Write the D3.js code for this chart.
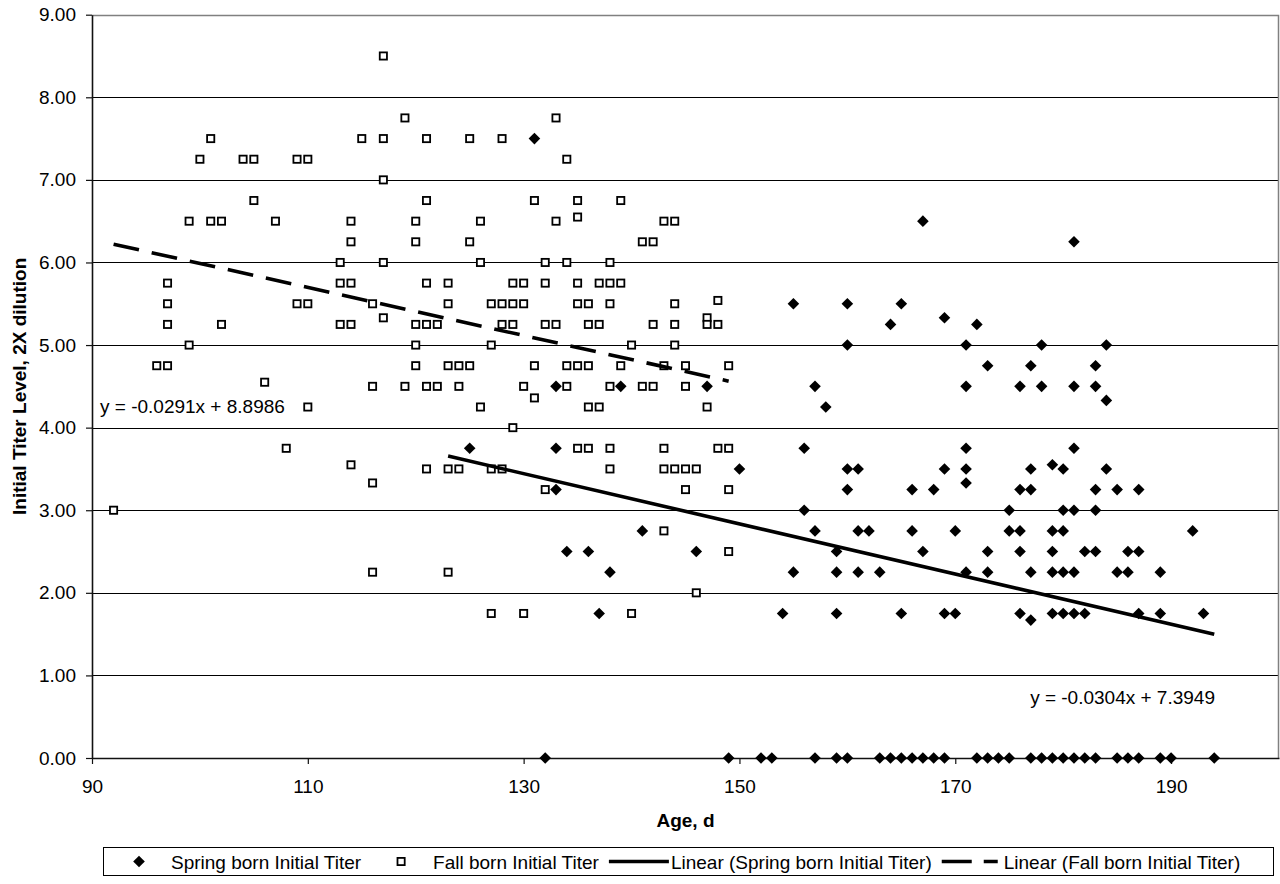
<!DOCTYPE html>
<html>
<head>
<meta charset="utf-8">
<script src="https://cdn.jsdelivr.net/npm/d3@7"></script>
<style>
body { margin: 0; background: #fff; }
svg { display: block; font-family: "Liberation Sans", Arial, sans-serif; }
</style>
</head>
<body>
<div id="container"></div>
<script>

// [age (d), initial titer]
var springPoints = [
	[131,7.5], [167,6.5], [181,6.25],
	[155,5.5], [160,5.5], [165,5.5], [169,5.33], [164,5.25], [172,5.25],
	[160,5], [171,5], [178,5], [184,5],
	[173,4.75], [177,4.75], [183,4.75],
	[133,4.5], [139,4.5], [147,4.5], [157,4.5], [171,4.5], [176,4.5], [178,4.5], [181,4.5], [183,4.5],
	[184,4.33], [158,4.25],
	[125,3.75], [133,3.75], [156,3.75], [171,3.75], [181,3.75], [179,3.55],
	[150,3.5], [160,3.5], [161,3.5], [169,3.5], [171,3.5], [177,3.5], [180,3.5], [184,3.5],
	[171,3.33],
	[133,3.25], [160,3.25], [166,3.25], [168,3.25], [176,3.25], [177,3.25], [183,3.25], [185,3.25], [187,3.25],
	[156,3], [175,3], [180,3], [181,3], [183,3],
	[141,2.75], [157,2.75], [161,2.75], [162,2.75], [166,2.75], [170,2.75], [175,2.75], [176,2.75], [179,2.75], [180,2.75], [192,2.75],
	[134,2.5], [136,2.5], [146,2.5], [159,2.5], [167,2.5], [173,2.5], [176,2.5], [179,2.5], [182,2.5], [183,2.5], [186,2.5], [187,2.5],
	[138,2.25], [155,2.25], [159,2.25], [161,2.25], [163,2.25], [171,2.25], [173,2.25], [177,2.25], [179,2.25], [180,2.25], [181,2.25], [185,2.25], [186,2.25], [189,2.25],
	[137,1.75], [154,1.75], [159,1.75], [165,1.75], [169,1.75], [170,1.75], [176,1.75], [179,1.75], [180,1.75], [181,1.75], [182,1.75], [187,1.75], [189,1.75], [193,1.75],
	[177,1.67],
	[132,0], [149,0], [152,0], [153,0], [157,0], [159,0], [160,0], [163,0], [164,0], [165,0], [166,0], [167,0], [168,0], [169,0],
	[172,0], [173,0], [174,0], [175,0], [177,0], [178,0], [179,0], [180,0], [181,0], [182,0], [183,0], [185,0], [186,0], [187,0],
	[189,0], [190,0], [194,0]
];

var fallPoints = [
	[117,8.5], [119,7.75], [133,7.75],
	[101,7.5], [115,7.5], [117,7.5], [121,7.5], [125,7.5], [128,7.5],
	[100,7.25], [104,7.25], [105,7.25], [109,7.25], [110,7.25], [134,7.25],
	[117,7],
	[105,6.75], [121,6.75], [131,6.75], [135,6.75], [139,6.75], [135,6.55],
	[99,6.5], [101,6.5], [102,6.5], [107,6.5], [114,6.5], [120,6.5], [126,6.5], [133,6.5], [143,6.5], [144,6.5],
	[114,6.25], [120,6.25], [125,6.25], [141,6.25], [142,6.25],
	[113,6], [117,6], [126,6], [132,6], [134,6], [138,6],
	[97,5.75], [113,5.75], [114,5.75], [121,5.75], [123,5.75], [129,5.75], [130,5.75], [132,5.75], [135,5.75], [137,5.75], [138,5.75], [139,5.75],
	[148,5.54],
	[97,5.5], [109,5.5], [110,5.5], [116,5.5], [123,5.5], [127,5.5], [128,5.5], [129,5.5], [130,5.5], [135,5.5], [136,5.5], [138,5.5], [144,5.5],
	[117,5.33], [147,5.33],
	[97,5.25], [102,5.25], [113,5.25], [114,5.25], [120,5.25], [121,5.25], [122,5.25], [128,5.25], [129,5.25], [132,5.25], [133,5.25],
	[136,5.25], [137,5.25], [142,5.25], [144,5.25], [147,5.25], [148,5.25],
	[99,5], [120,5], [127,5], [140,5], [144,5],
	[96,4.75], [97,4.75], [120,4.75], [123,4.75], [124,4.75], [125,4.75], [131,4.75], [134,4.75], [135,4.75], [136,4.75], [139,4.75], [143,4.75], [145,4.75], [149,4.75],
	[106,4.55],
	[116,4.5], [119,4.5], [121,4.5], [122,4.5], [124,4.5], [130,4.5], [134,4.5], [138,4.5], [141,4.5], [142,4.5], [145,4.5],
	[131,4.36],
	[110,4.25], [126,4.25], [136,4.25], [137,4.25], [147,4.25],
	[129,4],
	[108,3.75], [135,3.75], [136,3.75], [138,3.75], [143,3.75], [148,3.75], [149,3.75],
	[114,3.55],
	[121,3.5], [123,3.5], [124,3.5], [127,3.5], [128,3.5], [138,3.5], [143,3.5], [144,3.5], [145,3.5], [146,3.5],
	[116,3.33],
	[132,3.25], [145,3.25], [149,3.25],
	[92,3], [143,2.75], [149,2.5], [116,2.25], [123,2.25], [146,2], [127,1.75], [130,1.75], [140,1.75]
];

// trend lines: [slope, intercept], [first age, last age]
var springTrend = [-0.0304, 7.3949];
var springTrendRange = [123, 194];
var fallTrend = [-0.0291, 8.8986];
var fallTrendRange = [92, 149];

var xTicks = [90, 110, 130, 150, 170, 190];
var yTicks = [0, 1, 2, 3, 4, 5, 6, 7, 8, 9];
var legendNames = ["Spring born Initial Titer", "Fall born Initial Titer",
	"Linear (Spring born Initial Titer)", "Linear (Fall born Initial Titer)"];

var width = 1280, height = 884;
var fontSize = 19;

var svg = d3.select("#container")
	.append("svg")
	.attr("width", width)
	.attr("height", height);

var x = d3.scaleLinear().domain([90, 200]).range([92, 1279]);
var y = d3.scaleLinear().domain([0, 9]).range([758, 14.7]);

// gridlines
svg.append("g")
	.selectAll("line")
	.data(yTicks.filter(d => d > 0 && d < 9))
	.enter()
	.append("line")
	.attr("x1", x(90))
	.attr("x2", x(200))
	.attr("y1", d => Math.round(y(d)) + 0.5)
	.attr("y2", d => Math.round(y(d)) + 0.5)
	.attr("stroke", "#000")
	.attr("stroke-width", 1);

// plot area border top / right
svg.append("path")
	.attr("d", "M" + x(90) + "," + (Math.round(y(9)) + 0.5) + "H" + (x(200) - 0.5) + "V" + y(0))
	.attr("fill", "none")
	.attr("stroke", "#808080")
	.attr("stroke-width", 1.5);

// axes
var yAxis = svg.append("g")
	.attr("transform", "translate(" + x(90) + ",0)")
	.call(d3.axisLeft(y).tickValues(yTicks).tickFormat(d3.format(".2f")).tickSize(6).tickSizeOuter(0).tickPadding(10));

var xAxis = svg.append("g")
	.attr("transform", "translate(0," + y(0) + ")")
	.call(d3.axisBottom(x).tickValues(xTicks).tickFormat(d3.format("d")).tickSize(6).tickSizeOuter(0).tickPadding(15.5));

[yAxis, xAxis].forEach(function(a) {
	a.attr("font-family", null).attr("font-size", fontSize);
	a.selectAll("path").attr("stroke", "#111").attr("stroke-width", 1.6);
	a.selectAll("line").attr("stroke", "#111").attr("stroke-width", 1.2);
	a.selectAll("text").attr("fill", "#000");
});

// points
svg.append("g")
	.selectAll("rect")
	.data(fallPoints)
	.enter()
	.append("rect")
	.attr("x", d => x(d[0]) - 3.6)
	.attr("y", d => y(d[1]) - 3.6)
	.attr("width", 7.2)
	.attr("height", 7.2)
	.attr("fill", "#fff")
	.attr("stroke", "#000")
	.attr("stroke-width", 1.8);

var diamond = "M0,-5.8L5.8,0L0,5.8L-5.8,0Z";

svg.append("g")
	.selectAll("path")
	.data(springPoints)
	.enter()
	.append("path")
	.attr("d", diamond)
	.attr("transform", d => "translate(" + x(d[0]) + "," + y(d[1]) + ")")
	.attr("fill", "#000");

// trend lines
var line = d3.line().x(d => x(d[0])).y(d => y(d[1]));

function trendPoints(coef, range) {
	return range.map(a => [a, coef[0] * a + coef[1]]);
}

svg.append("path")
	.attr("d", line(trendPoints(springTrend, springTrendRange)))
	.attr("fill", "none")
	.attr("stroke", "#000")
	.attr("stroke-width", 3.6);

svg.append("path")
	.attr("d", line(trendPoints(fallTrend, fallTrendRange)))
	.attr("fill", "none")
	.attr("stroke", "#000")
	.attr("stroke-width", 3.6)
	.attr("stroke-dasharray", "26,13");

// equations
svg.append("text")
	.attr("x", 100)
	.attr("y", 413)
	.attr("font-size", fontSize)
	.text("y = " + fallTrend[0] + "x + " + fallTrend[1]);

svg.append("text")
	.attr("x", 1215)
	.attr("y", 704)
	.attr("text-anchor", "end")
	.attr("font-size", fontSize)
	.text("y = " + springTrend[0] + "x + " + springTrend[1]);

// axis titles
svg.append("text")
	.attr("x", (x(90) + x(200)) / 2)
	.attr("y", 827)
	.attr("text-anchor", "middle")
	.attr("font-size", fontSize)
	.attr("font-weight", "bold")
	.text("Age, d");

svg.append("text")
	.attr("transform", "translate(26," + (y(0) + y(9)) / 2 + ") rotate(-90)")
	.attr("text-anchor", "middle")
	.attr("font-size", fontSize)
	.attr("font-weight", "bold")
	.text("Initial Titer Level, 2X dilution");

// legend
var legTop = 847, legH = 28;
var legend = svg.append("g");
legend.append("rect")
	.attr("x", 103.5)
	.attr("y", legTop + 0.5)
	.attr("width", 1170)
	.attr("height", legH)
	.attr("fill", "#fff")
	.attr("stroke", "#000")
	.attr("stroke-width", 1);

var lx = 109, cy = legTop + legH / 2 + 0.5;
legendNames.forEach(function(name, i) {
	var item = legend.append("g");
	if (i == 0) {
		item.append("path").attr("d", diamond).attr("transform", "translate(" + (lx + 30) + "," + cy + ")").attr("fill", "#000");
	} else if (i == 1) {
		item.append("rect").attr("x", lx + 30 - 3.6).attr("y", cy - 3.6).attr("width", 7.2).attr("height", 7.2)
			.attr("fill", "#fff").attr("stroke", "#000").attr("stroke-width", 1.8);
	} else {
		item.append("line").attr("x1", lx).attr("x2", lx + 60).attr("y1", cy).attr("y2", cy)
			.attr("stroke", "#000").attr("stroke-width", 3.6)
			.attr("stroke-dasharray", i == 3 ? "30,12,14,100" : null);
	}
	var t = item.append("text")
		.attr("x", lx + 62)
		.attr("y", cy + 7)
		.attr("font-size", fontSize)
		.text(name);
	lx = lx + 62 + t.node().getComputedTextLength() + 10;
});

</script>
</body>
</html>
